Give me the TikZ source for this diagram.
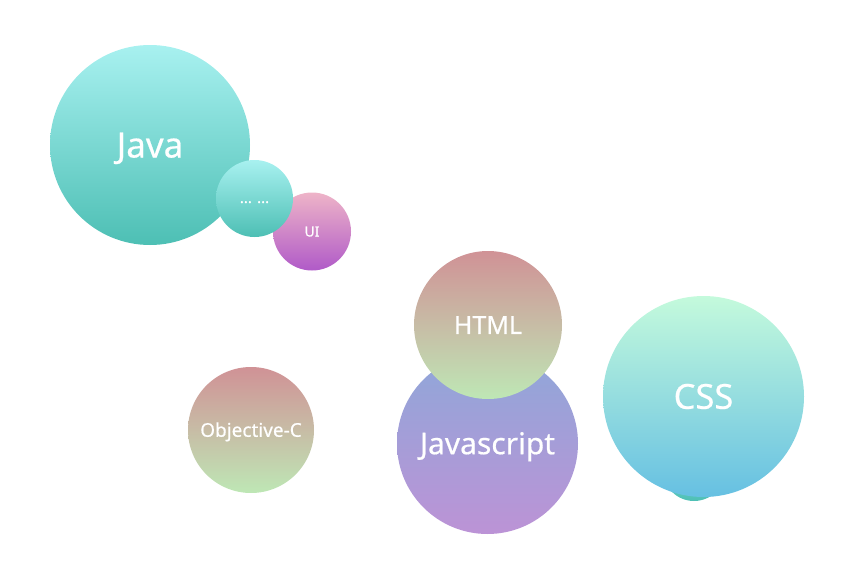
\documentclass[tikz,border=0pt]{standalone}
\usepackage{fontspec}
\setmainfont{Noto Sans}[FakeBold=0.5]
\definecolor{tealtop}{HTML}{A8F1F0}
\definecolor{tealbot}{HTML}{4DBFB4}
\definecolor{pinktop}{HTML}{EEB4C8}
\definecolor{purpbot}{HTML}{B05AC8}
\definecolor{rosetop}{HTML}{D09296}
\definecolor{greenbot}{HTML}{BEE7B5}
\definecolor{bluetop}{HTML}{8FA7D9}
\definecolor{lavbot}{HTML}{BC93D6}
\definecolor{minttop}{HTML}{C4FADC}
\definecolor{skybot}{HTML}{66C0E2}
\begin{document}
\begin{tikzpicture}[x=1pt,y=-1pt,
  bubble/.style={circle, inner sep=0pt, draw=none, text=white, align=center, text depth=0pt},
  teal/.style={top color=tealtop, bottom color=tealbot},
  pinkpurple/.style={top color=pinktop, bottom color=purpbot},
  rosegreen/.style={top color=rosetop, bottom color=greenbot},
  bluelav/.style={top color=bluetop, bottom color=lavbot},
  mintsky/.style={top color=minttop, bottom color=skybot}]
\useasboundingbox (0,0) rectangle (863,562);
\node[bubble, teal, minimum size=200pt, text height=25pt, font=\fontsize{35}{40}\selectfont] (java) at (150,145) {Java};
\node[bubble, pinkpurple, minimum size=78pt, text height=10pt, font=\fontsize{14}{16}\selectfont] (ui) at (312,231.5) {UI};
\node[bubble, teal, minimum size=77pt, text height=9pt, font=\fontsize{15}{16}\selectfont] (more) at (254.5,198.5) {... ...};
\node[bubble, rosegreen, minimum size=126pt, text height=13.6pt, font=\fontsize{19}{22}\selectfont] (objc) at (251,430) {Objective-C};
\node[bubble, bluelav, minimum size=181pt, text height=21.4pt, font=\fontsize{30}{34}\selectfont] (js) at (487.5,443.5) {Javascript};
\node[bubble, rosegreen, minimum size=148pt, text height=17.9pt, font=\fontsize{25}{28}\selectfont] (html) at (488,325) {HTML};
\node[bubble, teal, minimum size=62pt] (hidden) at (694,470) {};
\node[bubble, mintsky, minimum size=201pt, text height=24.6pt, font=\fontsize{34.5}{38}\selectfont] (css) at (703.5,396.5) {CSS};
\end{tikzpicture}
\end{document}
